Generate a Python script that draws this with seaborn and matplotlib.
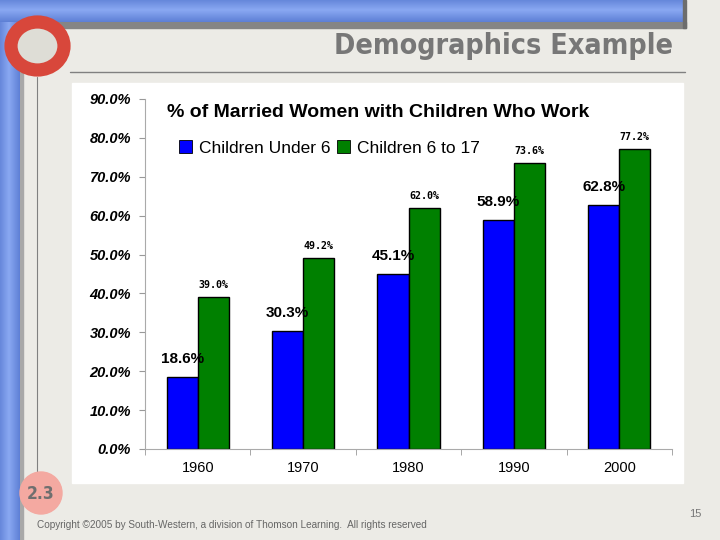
import numpy as np
import pandas as pd
import seaborn as sns
import matplotlib.pyplot as plt
from matplotlib.patches import Rectangle, Circle, Ellipse
from matplotlib.ticker import FuncFormatter, FixedLocator

years = ['1960', '1970', '1980', '1990', '2000']
under_6 = [18.6, 30.3, 45.1, 58.9, 62.8]
six_to_17 = [39.0, 49.2, 62.0, 73.6, 77.2]
series_names = ['Children Under 6', 'Children 6 to 17']
y_ticks = [0, 10, 20, 30, 40, 50, 60, 70, 80, 90]

df = pd.DataFrame({
    'year': years * 2,
    'pct': under_6 + six_to_17,
    'series': [series_names[0]] * len(years) + [series_names[1]] * len(years),
})

sns.set_style('white')
plt.rcParams['font.family'] = ['Liberation Sans', 'DejaVu Sans']
plt.rcParams['text.color'] = 'black'
plt.rcParams['xtick.color'] = 'black'
plt.rcParams['ytick.color'] = 'black'

W, H = 720, 540
fig = plt.figure(figsize=(7.2, 5.4), dpi=100)
fig.patch.set_facecolor('#ECEBE6')

def px(x0, y0, w, h):
    # pixel box (top-left origin) -> figure fraction rect
    return [x0 / W, 1 - (y0 + h) / H, w / W, h / H]

# slide decoration layer
deco = fig.add_axes([0, 0, 1, 1])
deco.set_xlim(0, W)
deco.set_ylim(H, 0)
deco.axis('off')

# blue bars with a simple gradient
grad = np.linspace(0, 1, 40)
shade = 1 - np.abs(grad - 0.45) * 1.2
blue = np.array([[0.28, 0.42, 0.78]]) + np.outer(shade, [0.26, 0.24, 0.17])
deco.add_patch(Rectangle((10, 22), 676, 6, color='#858585', zorder=1))
deco.add_patch(Rectangle((20, 22), 3, H, color='#a8a8a8', zorder=1))
deco.imshow(blue[:, None, :], extent=(0, 684, 22, 0), aspect='auto', zorder=2)
deco.add_patch(Rectangle((683, 0), 3, 28, color='#6d6d6d', zorder=2))
deco.imshow(blue[None, :, :], extent=(0, 20, H, 22), aspect='auto', zorder=2)

# lines
deco.plot([70, 685], [72, 72], color='#808080', lw=1, zorder=2)
deco.plot([37, 37], [77, 475], color='#808080', lw=0.8, zorder=2)

# red ring
deco.add_patch(Ellipse((37.5, 46), 53, 48, facecolor='#DEDDD6', edgecolor='#D8473B',
                       lw=9.5, zorder=3))

# white chart panel
deco.add_patch(Rectangle((72, 83), 611, 400, color='white', zorder=1))

# section badge
deco.add_patch(Circle((41, 493), 21, color='#F4A9A1', zorder=3))
deco.text(41, 494, '2.3', ha='center', va='center', fontsize=12.5, fontweight='bold',
          fontstretch='condensed', color='#6f6f6f', zorder=4, family='DejaVu Sans')

deco.text(673, 46, 'Demographics Example', ha='right', va='center', fontsize=20.5,
          fontweight='bold', fontstretch='condensed', color='#777777', family='DejaVu Sans')
deco.text(701, 514, '15', ha='right', va='center', fontsize=8, color='#777777')
deco.text(37, 525, 'Copyright \u00a92005 by South-Western, a division of Thomson Learning.  All rights reserved',
          ha='left', va='center', fontsize=7.2, color='#666666')

# chart
ax = fig.add_axes(px(145, 99, 527, 350))
ax.set_facecolor('none')
sns.barplot(data=df, x='year', y='pct', hue='series',
            palette=['#0000FF', '#008000'], width=0.59,
            edgecolor='black', linewidth=1, saturation=1, ax=ax)
ax.set_xlim(-0.5, 4.5)
ax.set_ylim(0, 90)
ax.set_xlabel('')
ax.set_ylabel('')
ax.yaxis.set_major_locator(FixedLocator(y_ticks))
ax.yaxis.set_major_formatter(FuncFormatter(lambda v, p: f'{v:.1f}%'))
ax.tick_params(axis='y', labelsize=10.5, length=4, color='#999999', pad=6, left=True,
               labelcolor='black')
ax.tick_params(axis='x', labelsize=10.5, length=0, pad=9, labelcolor='black')
for lab in ax.get_yticklabels():
    lab.set_fontweight('bold')
    lab.set_fontstyle('italic')
ax.set_xticks(np.arange(-0.5, 5, 1), minor=True)
ax.tick_params(axis='x', which='minor', length=4, color='#999999', bottom=True)
for s in ['top', 'right']:
    ax.spines[s].set_visible(False)
for s in ['left', 'bottom']:
    ax.spines[s].set_color('#aaaaaa')
    ax.spines[s].set_linewidth(0.8)

ax.bar_label(ax.containers[0], labels=[f'{v:.1f}%' for v in under_6], padding=8,
             fontsize=11, fontweight='bold', color='black')
ax.bar_label(ax.containers[1], labels=[f'{v:.1f}%' for v in six_to_17], padding=5,
             fontsize=7.2, fontweight='bold', color='black', family='DejaVu Sans Mono')

ax.legend_.remove()
handles = [Rectangle((0, 0), 1, 1, facecolor=c, edgecolor='black', lw=0.6)
           for c in ['#0000FF', '#008000']]
ax.legend(handles, series_names, loc='center left', bbox_to_anchor=(0.051, 0.86),
          ncol=2, frameon=False, fontsize=12.5, handlelength=0.75, handleheight=0.75,
          handletextpad=0.4, columnspacing=0.4, borderaxespad=0)

ax.text(0.042, 0.962, '% of Married Women with Children Who Work', transform=ax.transAxes,
        ha='left', va='center', fontsize=14, fontweight='bold', color='black')

fig.savefig('out.png', dpi=100, facecolor=fig.get_facecolor())
